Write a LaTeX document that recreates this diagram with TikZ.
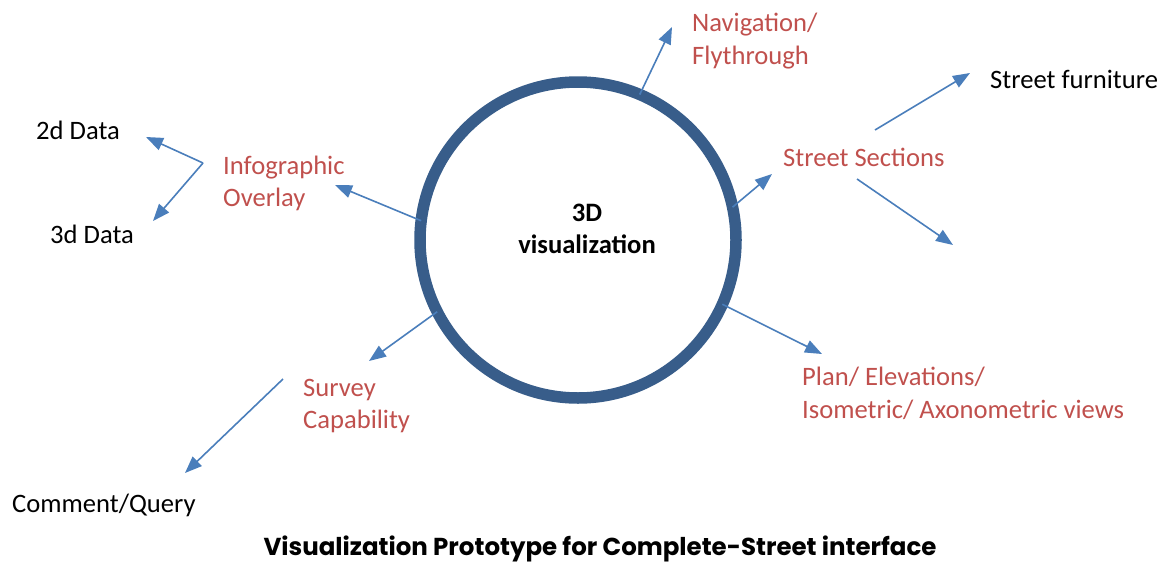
\documentclass[tikz,border=0pt]{standalone}
\usepackage{fontspec}
\setmainfont{Carlito}
\newfontfamily\capfont{Poppins}
\usetikzlibrary{arrows.meta}
\definecolor{ringblue}{RGB}{56,93,138}
\definecolor{arrowblue}{RGB}{74,126,187}
\definecolor{labelred}{RGB}{192,80,77}
\tikzset{
  conn/.style={draw=arrowblue, line width=1.6pt, -{Triangle[length=17pt,width=13pt]}},
  redlbl/.style={text=labelred, font=\fontsize{26.6}{32.5}\selectfont, inner sep=0pt, align=left},
  blklbl/.style={text=black, font=\fontsize{26.6}{32.5}\selectfont, inner sep=0pt},
}
\begin{document}
\begin{tikzpicture}[x=1pt,y=-1pt]
\useasboundingbox (0,0) rectangle (1167,565);
% centre ring
\node[circle, draw=ringblue, line width=11.5pt, minimum size=316pt, inner sep=0pt, outer sep=0pt] (viz) at (578,240) {};
\node[font=\bfseries\fontsize{26.6}{32}\selectfont, align=center, inner sep=0pt] (vizlbl) at (587,229) {3D\\visualization};
% labels
\node[redlbl, anchor=west] (nav) at (692,41) {Navigation/\\Flythrough};
\node[redlbl, anchor=base west] (sect) at (783,166) {Street Sections};
\node[blklbl, anchor=base west] (furn) at (990,88) {Street furniture};
\node[redlbl, anchor=west] (info) at (223,183.5) {Infographic\\Overlay};
\node[blklbl, anchor=base west] (twod) at (36,139) {2d Data};
\node[blklbl, anchor=base west] (threed) at (50,243) {3d Data};
\node[redlbl, anchor=west] (survey) at (303,406) {Survey\\Capability};
\node[blklbl, anchor=base west] (comment) at (12,512) {Comment/Query};
\node[redlbl, anchor=west] (plan) at (802,393.5) {Plan/ Elevations/\\Isometric/ Axonometric views};
\node[font=\capfont\bfseries\fontsize{24.5}{28}\selectfont, inner sep=0pt] (title) at (600,549) {Visualization Prototype for Complete-Street interface};
% free ends
\coordinate (navtip) at (672,27);
\coordinate (secttip) at (772,174);
\coordinate (sectsplit) at (875,130);
\coordinate (furntip) at (970,73);
\coordinate (sectlow) at (857,179);
\coordinate (lowtip) at (953,245);
\coordinate (infotip) at (335,185);
\coordinate (infosplit) at (203,163);
\coordinate (twodtip) at (146,137);
\coordinate (threedtip) at (153,221);
\coordinate (surveytip) at (369,361);
\coordinate (surveylow) at (283,379);
\coordinate (commenttip) at (185,473);
\coordinate (plantip) at (822,354);
% connectors
\draw[conn] (viz.67) -- (navtip);
\draw[conn] (viz.12) -- (secttip);
\draw[conn] (sectsplit) -- (furntip);
\draw[conn] (sectlow) -- (lowtip);
\draw[conn] (viz.173) -- (infotip);
\draw[conn] (infosplit) -- (twodtip);
\draw[conn] (infosplit) -- (threedtip);
\draw[conn] (viz.207) -- (surveytip);
\draw[conn] (surveylow) -- (commenttip);
\draw[conn] (viz.-24) -- (plantip);
\end{tikzpicture}
\end{document}
